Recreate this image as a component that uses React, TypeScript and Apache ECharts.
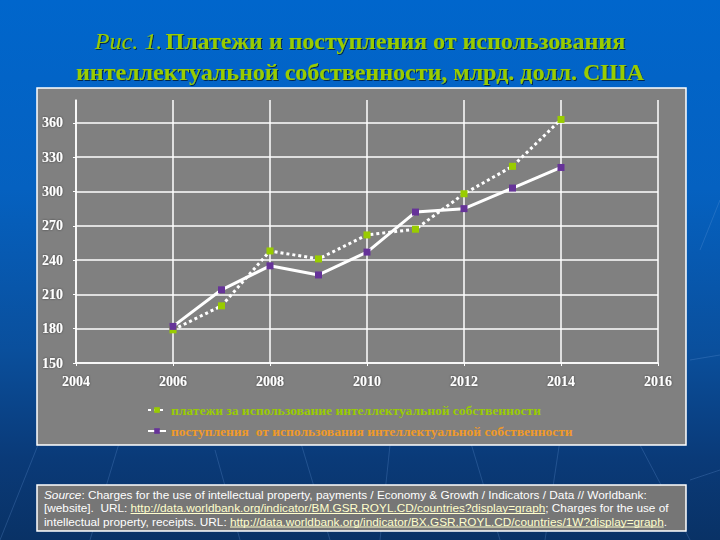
import React, { useEffect, useRef } from 'react';
import * as echarts from 'echarts';

// years and values (bn USD)
const years = [2006, 2007, 2008, 2009, 2010, 2011, 2012, 2013, 2014];
const payments = [179, 200, 248, 241, 262, 267, 298, 322, 363];
const receipts = [182, 214, 235, 227, 247, 282, 285, 303, 321];

const paymentsName = 'платежи за использование интеллектуальной собственности';
const receiptsName = 'поступления  от использования интеллектуальной собственности';

const titleLines = [
  '{i|Рис. 1.} {b|Платежи и поступления от использования}',
  '{b|интеллектуальной собственности, млрд. долл. США}',
];

const sourceLines = [
  [{ t: 'Source', s: 'it' }, { t: ': Charges for the use of intellectual property, payments / Economy & Growth / Indicators / Data // Worldbank:', s: 'n' }],
  [{ t: '[website].  URL: ', s: 'n' }, { t: 'http://data.worldbank.org/indicator/BM.GSR.ROYL.CD/countries?display=graph', s: 'l' }, { t: '; Charges for the use of', s: 'n' }],
  [{ t: 'intellectual property, receipts. URL: ', s: 'n' }, { t: 'http://data.worldbank.org/indicator/BX.GSR.ROYL.CD/countries/1W?display=graph', s: 'l' }, { t: '.', s: 'n' }],
];

const SERIF = '"Liberation Serif", "Times New Roman", serif';
const SANS = '"Liberation Sans", Arial, sans-serif';
const SRC_SIZE = 11.8;

const App: React.FC = () => {
  const chartRef = useRef<HTMLDivElement>(null);

  useEffect(() => {
    const chart = echarts.init(chartRef.current!, null, { renderer: 'svg' });

    // measure source text so the link underlines sit under the links
    const ctx = document.createElement('canvas').getContext('2d')!;
    const underlines: any[] = [];
    const srcX = 44;
    const srcTop = 488;
    const srcLh = 13.5;
    sourceLines.forEach((line, li) => {
      let x = srcX;
      line.forEach((part) => {
        ctx.font = (part.s === 'it' ? 'italic ' : '') + SRC_SIZE + 'px ' + SANS;
        const w = ctx.measureText(part.t).width;
        if (part.s === 'l') {
          underlines.push({
            type: 'line',
            z: 5,
            shape: { x1: x, y1: srcTop + li * srcLh + 12, x2: x + w, y2: srcTop + li * srcLh + 12 },
            style: { stroke: '#ffffcc', lineWidth: 1 },
          });
        }
        x += w;
      });
    });

    const sourceText = sourceLines
      .map((line) => line.map((p) => `{${p.s}|${p.t.replace(/[{}|]/g, '')}}`).join(''))
      .join('\n');

    // faint streaks of the slide background
    const streaks = [
      [40, 440, 0, 540], [120, 440, 90, 540], [215, 450, 240, 540], [300, 440, 330, 540],
      [390, 445, 380, 540], [470, 440, 500, 540], [560, 440, 545, 540], [640, 445, 690, 540],
      [700, 250, 720, 200], [690, 480, 720, 470], [690, 360, 720, 355],
    ].map(([x1, y1, x2, y2]) => ({
      type: 'line',
      z: -20,
      shape: { x1, y1, x2, y2 },
      style: { stroke: '#6fa0e0', lineWidth: 1, opacity: 0.25 },
    }));

    const options = {
      animation: false,
      backgroundColor: 'transparent',
      graphic: [
        ...streaks,
        {
          type: 'rect',
          z: -10,
          shape: { x: 37, y: 88, width: 649, height: 357 },
          style: { fill: '#808080', stroke: '#ffffff', lineWidth: 1.5 },
        },
        {
          type: 'rect',
          z: -10,
          shape: { x: 37, y: 485, width: 649, height: 46 },
          style: { fill: '#767676', stroke: '#ffffff', lineWidth: 1.5 },
        },
        {
          type: 'text',
          z: 5,
          x: 360,
          y: 25,
          style: {
            text: titleLines.join('\n'),
            align: 'center',
            verticalAlign: 'top',
            lineHeight: 31,
            fill: '#99cc00',
            textShadowColor: 'rgba(0,0,0,0.6)',
            textShadowBlur: 1,
            textShadowOffsetX: 1,
            textShadowOffsetY: 1,
            rich: {
              i: { fontFamily: SERIF, fontSize: 24, fontStyle: 'italic', fill: '#99cc00', lineHeight: 31 },
              b: { fontFamily: SERIF, fontSize: 24, fontWeight: 'bold', fill: '#99cc00', lineHeight: 31 },
            },
          },
        },
        {
          type: 'text',
          z: 5,
          x: srcX,
          y: srcTop,
          style: {
            text: sourceText,
            verticalAlign: 'top',
            lineHeight: srcLh,
            fill: '#ffffff',
            rich: {
              n: { fontFamily: SANS, fontSize: SRC_SIZE, fill: '#ffffff', lineHeight: srcLh },
              it: { fontFamily: SANS, fontSize: SRC_SIZE, fontStyle: 'italic', fill: '#ffffff', lineHeight: srcLh },
              l: { fontFamily: SANS, fontSize: SRC_SIZE, fill: '#ffffcc', lineHeight: srcLh },
            },
          },
        },
        ...underlines,
      ],
      grid: { left: 76, right: 62, top: 100, bottom: 177 },
      xAxis: {
        type: 'value',
        min: 2004,
        max: 2016,
        interval: 2,
        axisLine: { show: true, lineStyle: { color: '#ffffff', width: 1.5 } },
        axisTick: { show: true, length: 3, lineStyle: { color: '#ffffff' } },
        axisLabel: {
          color: '#ffffff',
          fontFamily: SERIF,
          fontWeight: 'bold',
          fontSize: 14,
          margin: 11,
          formatter: (v: number) => String(v),
          textShadowColor: 'rgba(0,0,0,0.5)',
          textShadowBlur: 2,
        },
        splitLine: { show: true, lineStyle: { color: '#ffffff', width: 1.5 } },
      },
      yAxis: {
        type: 'value',
        min: 150,
        max: 380,
        interval: 30,
        axisLine: { show: true, lineStyle: { color: '#ffffff', width: 1.5 } },
        axisTick: { show: true, length: 3, lineStyle: { color: '#ffffff' } },
        axisLabel: {
          color: '#ffffff',
          fontFamily: SERIF,
          fontWeight: 'bold',
          fontSize: 14,
          margin: 13,
          showMaxLabel: false,
          formatter: (v: number) => (v > 360 ? '' : String(v)),
          textShadowColor: 'rgba(0,0,0,0.5)',
          textShadowBlur: 2,
        },
        splitLine: { show: true, showMaxLine: false, lineStyle: { color: '#ffffff', width: 1.5 } },
      },
      legend: {
        orient: 'vertical',
        left: 142,
        top: 398,
        itemGap: 7,
        itemWidth: 18,
        itemHeight: 7,
        textStyle: { fontFamily: SERIF, fontWeight: 'bold', fontSize: 13.5 },
        data: [
          { name: paymentsName, textStyle: { color: '#99cc00' } },
          { name: receiptsName, textStyle: { color: '#f09a28' } },
        ],
      },
      series: [
        {
          name: receiptsName,
          type: 'line',
          data: years.map((y, i) => [y, receipts[i]]),
          symbol: 'rect',
          symbolSize: 7,
          itemStyle: { color: '#663399' },
          lineStyle: { color: '#ffffff', width: 3 },
          z: 3,
        },
        {
          name: paymentsName,
          type: 'line',
          data: years.map((y, i) => [y, payments[i]]),
          symbol: 'rect',
          symbolSize: 7,
          itemStyle: { color: '#99cc00' },
          lineStyle: { color: '#ffffff', width: 3, type: [3, 3] },
          z: 2,
        },
      ],
    };

    chart.setOption(options as any);

    return () => {
      chart.dispose();
    };
  }, []);

  return (
    <div
      style={{
        position: 'fixed',
        left: 0,
        top: 0,
        width: 720,
        height: 540,
        background: 'linear-gradient(to bottom, #0066cc 0%, #0561c0 35%, #0a4f9c 65%, #0a3a78 85%, #093266 100%)',
      }}
    >
      <div ref={chartRef} style={{ width: 720, height: 540 }} />
    </div>
  );
};

export default App;
